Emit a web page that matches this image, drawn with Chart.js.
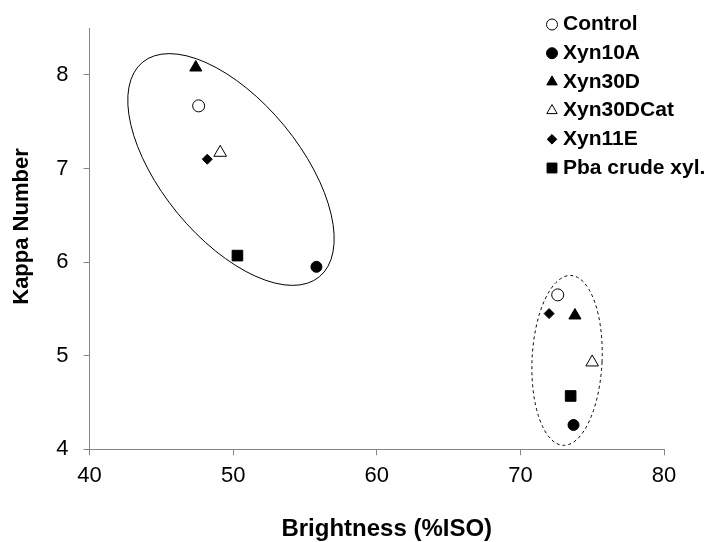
<!DOCTYPE html>
<html>
<head>
<meta charset="utf-8">
<title>Kappa number vs brightness</title>
<script src="https://cdn.jsdelivr.net/npm/chart.js@4.4.0/dist/chart.umd.min.js"></script>
<style>
  html, body { margin: 0; padding: 0; background: #fff; }
  #wrap { width: 708px; height: 542px; }
</style>
</head>
<body>
<div id="wrap"><canvas id="myChart" width="708" height="542"></canvas></div>
<script>
// legend names
const series = ['Control', 'Xyn10A', 'Xyn30D', 'Xyn30DCat', 'Xyn11E', 'Pba crude xyl.'];

// first group (left ellipse)
const brightness1 = [47.6, 55.8, 47.4, 49.1, 48.2, 50.3];
const kappa1 = [7.67, 5.95, 8.08, 7.17, 7.10, 6.07];

// second group (right ellipse)
const brightness2 = [72.6, 73.7, 73.8, 75.0, 72.0, 73.5];
const kappa2 = [5.65, 4.26, 5.43, 4.93, 5.45, 4.57];

const xTicks = [40, 50, 60, 70, 80];
const yTicks = [4, 5, 6, 7, 8];

const FONT = 'Arial, "Liberation Sans", sans-serif';

// marker look for each series (same order as series)
const markers = [
    { style: 'circle', fill: false, r: 6, legendR: 5.5 },
    { style: 'circle', fill: true, r: 5.5, legendR: 5.5 },
    { style: 'triangle', fill: true, r: 7, legendR: 6 },
    { style: 'triangle', fill: false, r: 7.3, legendR: 6 },
    { style: 'rectRot', fill: true, r: 5, legendR: 4.8 },
    { style: 'rect', fill: true, r: 7.5, legendR: 7 }
];

// the two ellipses drawn round the groups (centre in axis units)
const groups = [
    { x: 49.85, y: 6.99, rx: 139, ry: 69, rot: 50.5, dash: [] },
    { x: 73.25, y: 4.95, rx: 35, ry: 85, rot: 2.6, dash: [3, 3] }
];

const groupEllipses = {
    id: 'groupEllipses',
    beforeDatasetsDraw(chart) {
        const ctx = chart.ctx;
        const sx = chart.scales.x;
        const sy = chart.scales.y;
        ctx.save();
        ctx.strokeStyle = '#000';
        ctx.lineWidth = 1;
        groups.forEach(g => {
            ctx.setLineDash(g.dash);
            ctx.beginPath();
            ctx.ellipse(sx.getPixelForValue(g.x), sy.getPixelForValue(g.y), g.rx, g.ry, g.rot * Math.PI / 180, 0, Math.PI * 2);
            ctx.stroke();
        });
        ctx.restore();
    }
};

// legend drawn by hand so it can sit over the plot area, top right
const legendBox = {
    id: 'legendBox',
    afterDraw(chart) {
        const ctx = chart.ctx;
        ctx.save();
        ctx.font = 'bold 21px ' + FONT;
        ctx.textBaseline = 'middle';
        ctx.textAlign = 'left';
        chart.data.datasets.forEach((ds, i) => {
            const y = 24.5 + i * 28.7;
            ctx.fillStyle = markers[i].fill ? '#000' : '#fff';
            ctx.strokeStyle = '#000';
            ctx.lineWidth = 1;
            Chart.helpers.drawPoint(ctx, { pointStyle: markers[i].style, radius: markers[i].legendR, borderWidth: 1, rotation: 0 }, 552, y);
            ctx.fillStyle = '#000';
            ctx.fillText(ds.label, 563, y);
        });
        ctx.restore();
    }
};

const datasets = series.map((name, i) => ({
    label: name,
    data: [
        { x: brightness1[i], y: kappa1[i] },
        { x: brightness2[i], y: kappa2[i] }
    ],
    pointStyle: markers[i].style,
    pointRadius: markers[i].r,
    pointHoverRadius: markers[i].r,
    backgroundColor: markers[i].fill ? '#000' : '#fff',
    borderColor: '#000',
    borderWidth: 1
}));

var myChart = new Chart('myChart', {
    type: 'scatter',
    data: { datasets: datasets },
    options: {
        responsive: false,
        animation: false,
        devicePixelRatio: 1,
        layout: { padding: { top: 25.7, right: 44, left: 0, bottom: 0 } },
        plugins: {
            legend: { display: false },
            tooltip: { enabled: false }
        },
        scales: {
            x: {
                type: 'linear',
                min: 40,
                max: 80,
                afterFit: s => { s.height = 92.7; },
                afterBuildTicks: s => { s.ticks = xTicks.map(v => ({ value: v })); },
                grid: { drawOnChartArea: false, color: '#868686', tickLength: 6 },
                border: { color: '#868686' },
                ticks: { color: '#000', padding: 7, maxRotation: 0, font: { family: FONT, size: 22 } },
                title: {
                    display: true,
                    // leading spaces nudge the title a little right, like the original
                    text: '   Brightness (%ISO)',
                    color: '#000',
                    font: { family: FONT, size: 24, weight: 'bold' },
                    padding: { top: 0, bottom: -1.5 }
                }
            },
            y: {
                type: 'linear',
                min: 4,
                max: 8.5,
                afterFit: s => { s.width = 89.5; },
                afterBuildTicks: s => { s.ticks = yTicks.map(v => ({ value: v })); },
                grid: { drawOnChartArea: false, color: '#868686', tickLength: 6 },
                border: { color: '#868686' },
                ticks: { color: '#000', padding: 15, font: { family: FONT, size: 22 } },
                title: {
                    display: true,
                    // same trick: moves the rotated title up a bit
                    text: '    Kappa Number',
                    color: '#000',
                    font: { family: FONT, size: 22, weight: 'bold' },
                    padding: { top: 9, bottom: 0 }
                }
            }
        }
    },
    plugins: [groupEllipses, legendBox]
});
</script>
</body>
</html>
